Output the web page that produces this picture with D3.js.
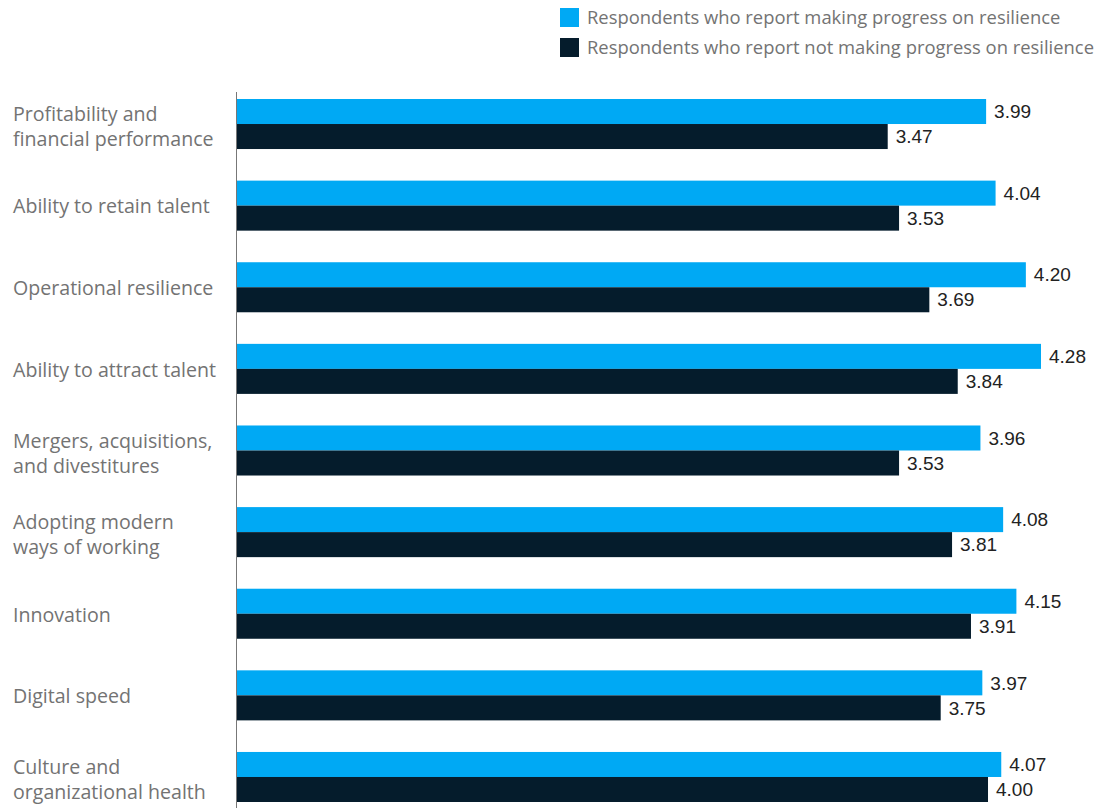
<!DOCTYPE html>
<html>
<head>
<meta charset="utf-8">
<script src="https://cdn.jsdelivr.net/npm/d3@7"></script>
<style>
  body { margin: 0; background: #fff; }
  svg { display: block; font-family: "Liberation Sans", Arial, sans-serif; }
  .cat, .legend text { font-family: "Open Sans", "Liberation Sans", sans-serif; }
</style>
</head>
<body>
<div id="chart"></div>
<script>
// categories (each entry is a list of label lines)
const categories = [
  ["Profitability and", "financial performance"],
  ["Ability to retain talent"],
  ["Operational resilience"],
  ["Ability to attract talent"],
  ["Mergers, acquisitions,", "and divestitures"],
  ["Adopting modern", "ways of working"],
  ["Innovation"],
  ["Digital speed"],
  ["Culture and", "organizational health"]
];
const seriesNames = [
  "Respondents who report making progress on resilience",
  "Respondents who report not making progress on resilience"
];
const progressValues = [3.99, 4.04, 4.20, 4.28, 3.96, 4.08, 4.15, 3.97, 4.07];
const noProgressValues = [3.47, 3.53, 3.69, 3.84, 3.53, 3.81, 3.91, 3.75, 4.00];
const colors = ["#00a9f4", "#051c2c"];

const width = 1110, height = 808;
const axisX = 236;

const svg = d3.select("#chart").append("svg")
  .attr("width", width)
  .attr("height", height);

const keys = categories.map(function (d) { return d.join(" "); });

// scales
const x = d3.scaleLinear().domain([0, 4.28]).range([231, 1041]);
const y = d3.scaleBand().domain(keys).range([99, 802]).paddingInner(0.387).paddingOuter(0);
const ySub = d3.scaleBand().domain([0, 1]).range([0, y.bandwidth()]);

const rows = keys.map(function (k, i) {
  return { key: k, lines: categories[i], vals: [progressValues[i], noProgressValues[i]] };
});

const groups = svg.selectAll("g.group")
  .data(rows)
  .enter().append("g")
  .attr("class", "group")
  .attr("transform", function (d) { return "translate(0," + y(d.key) + ")"; });

// bars
groups.selectAll("rect")
  .data(function (d) { return d.vals.map(function (v, j) { return { v: v, j: j }; }); })
  .enter().append("rect")
  .attr("x", axisX)
  .attr("y", function (d) { return ySub(d.j); })
  .attr("width", function (d) { return x(d.v) - axisX; })
  .attr("height", ySub.bandwidth())
  .attr("fill", function (d) { return colors[d.j]; });

// value labels
groups.selectAll("text.value")
  .data(function (d) { return d.vals.map(function (v, j) { return { v: v, j: j }; }); })
  .enter().append("text")
  .attr("class", "value")
  .attr("x", function (d) { return x(d.v) + 8; })
  .attr("y", function (d) { return ySub(d.j) + ySub.bandwidth() / 2; })
  .attr("dy", "0.35em")
  .attr("font-size", "19px")
  .attr("fill", "#222")
  .text(function (d) { return d.v.toFixed(2); });

// category labels
groups.append("text")
  .attr("class", "cat")
  .attr("x", 13)
  .attr("font-size", "19.6px")
  .attr("fill", "#737373")
  .each(function (d) {
    const t = d3.select(this);
    const mid = y.bandwidth() / 2 + (d.lines.length > 1 ? 3 : 1);
    const lh = 25;
    d.lines.forEach(function (line, i) {
      t.append("tspan")
        .attr("x", 13)
        .attr("y", mid + (i - (d.lines.length - 1) / 2) * lh)
        .attr("dy", "0.35em")
        .text(line);
    });
  });

// axis line
svg.append("line")
  .attr("x1", axisX + 0.5).attr("x2", axisX + 0.5)
  .attr("y1", 92).attr("y2", height)
  .attr("stroke", "#777")
  .attr("stroke-width", 1);

// legend
const legend = svg.selectAll("g.legend")
  .data(seriesNames)
  .enter().append("g")
  .attr("class", "legend")
  .attr("transform", function (d, i) { return "translate(560," + (8 + i * 30) + ")"; });

legend.append("rect")
  .attr("width", 19).attr("height", 19)
  .attr("fill", function (d, i) { return colors[i]; });

legend.append("text")
  .attr("x", 27)
  .attr("y", 9.5)
  .attr("dy", "0.35em")
  .attr("font-size", "18.4px")
  .attr("fill", "#737373")
  .text(function (d) { return d; });
</script>
</body>
</html>
